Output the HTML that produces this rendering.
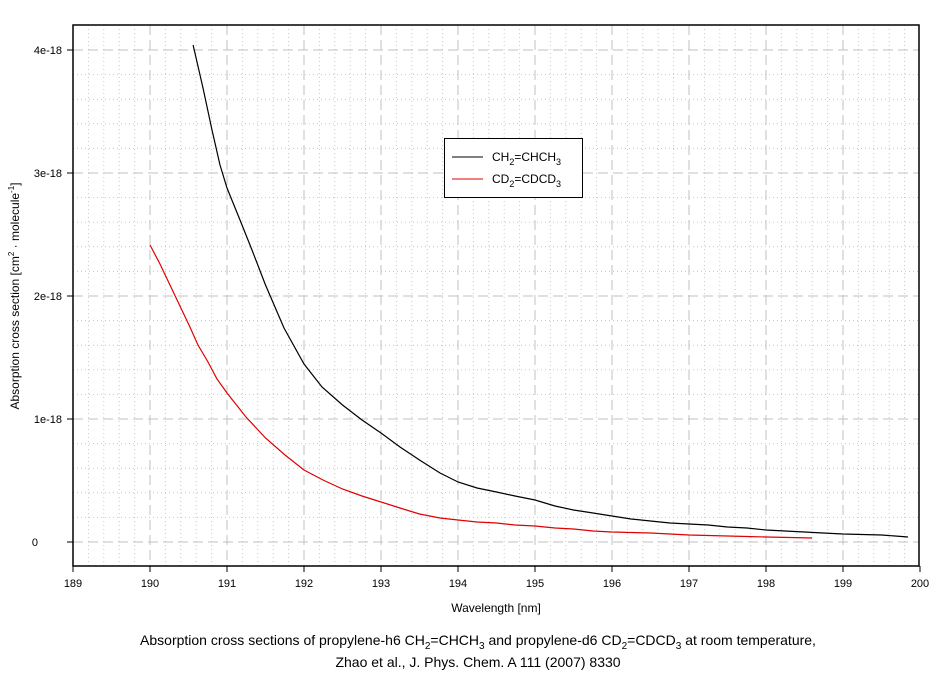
<!DOCTYPE html>
<html><head><style>body{margin:0;background:#fff}svg{display:block;font-family:"Liberation Sans",Arial,sans-serif}</style></head>
<body>
<svg width="944" height="676" viewBox="0 0 944 676" xmlns="http://www.w3.org/2000/svg">
<g stroke="#c8c8c8" stroke-width="1" stroke-dasharray="1,3">
<path d="M88.4 25V566M103.8 25V566M119.2 25V566M134.6 25V566M165.4 25V566M180.8 25V566M196.2 25V566M211.6 25V566M242.4 25V566M257.8 25V566M273.2 25V566M288.6 25V566M319.4 25V566M334.8 25V566M350.2 25V566M365.6 25V566M396.4 25V566M411.8 25V566M427.2 25V566M442.6 25V566M473.4 25V566M488.8 25V566M504.2 25V566M519.6 25V566M550.4 25V566M565.8 25V566M581.2 25V566M596.6 25V566M627.4 25V566M642.8 25V566M658.2 25V566M673.6 25V566M704.4 25V566M719.8 25V566M735.2 25V566M750.6 25V566M781.4 25V566M796.8 25V566M812.2 25V566M827.6 25V566M858.4 25V566M873.8 25V566M889.2 25V566M904.6 25V566"/>
<path d="M73 74.6H919M73 99.2H919M73 123.8H919M73 148.4H919M73 197.6H919M73 222.2H919M73 246.8H919M73 271.4H919M73 320.6H919M73 345.2H919M73 369.8H919M73 394.4H919M73 443.6H919M73 468.2H919M73 492.8H919M73 517.4H919"/>
</g>
<g stroke="#c0c0c0" stroke-width="1" stroke-dasharray="10,5">
<path d="M150 25V566M227 25V566M304 25V566M381 25V566M458 25V566M535 25V566M612 25V566M689 25V566M766 25V566M843 25V566"/>
<path d="M73 50H919M73 173H919M73 296H919M73 419H919M73 542H919"/>
</g>
<rect x="73" y="25" width="846" height="541" fill="none" stroke="#000" stroke-width="1.5"/>
<g stroke="#000" stroke-width="1">
<path d="M67 50H73M67 173H73M67 296H73M67 419H73M67 542H73"/>
<path d="M73 566V572M150 566V572M227 566V572M304 566V572M381 566V572M458 566V572M535 566V572M612 566V572M689 566V572M766 566V572M843 566V572M920 566V572"/>
</g>
<g font-size="11" fill="#000" text-anchor="end">
<text x="62" y="54">4e-18</text><text x="62" y="177">3e-18</text><text x="62" y="300">2e-18</text><text x="62" y="423">1e-18</text><text x="38" y="546">0</text>
</g>
<g font-size="11" fill="#000" text-anchor="middle">
<text x="73" y="587">189</text><text x="150" y="587">190</text><text x="227" y="587">191</text><text x="304" y="587">192</text><text x="381" y="587">193</text><text x="458" y="587">194</text><text x="535" y="587">195</text><text x="612" y="587">196</text><text x="689" y="587">197</text><text x="766" y="587">198</text><text x="843" y="587">199</text><text x="920" y="587">200</text>
<text x="496" y="612" font-size="12">Wavelength [nm]</text>
</g>
<text transform="translate(19,296) rotate(-90)" text-anchor="middle" font-size="12">Absorption cross section [cm<tspan font-size="8" dy="-5">2</tspan><tspan dy="5"> · molecule</tspan><tspan font-size="8" dy="-5">-1</tspan><tspan dy="5">]</tspan></text>
<polyline fill="none" stroke="#000" stroke-width="1.2" points="193.1,45 203,88 212,130 220,165 227,188 240,220 252,250 265.5,285 284,328 304,364 322,387 342.5,405 362,420 381,433 400,447 419.5,460 440,473 458,482 477,488 496.5,492 515,496 535,500 555,506 573.5,510 593,513 612,516 631,519 650.5,521 670,523 689,524 708,525 727.5,527 747,528 766,530 785,531 804.5,532 823,533 843,534 862,534.5 881.5,535 895,536 908,537"/>
<polyline fill="none" stroke="#e00000" stroke-width="1.2" points="150,245 160,264 169,283 179,304 189,325 198,345 208,362 217,379 227,393 246,417 265.5,438 285,455 304,470 323,480 342.5,489 362,496 381,502 400,508 419.5,514 440,518 458,520 477,522 496.5,523 515,525 535,526 555,528 573.5,529 593,531 612,532 631,532.5 650.5,533 670,534 689,535 708,535.5 727.5,536 747,536.5 766,537 790,537.5 812,538"/>
<rect x="444.5" y="138.5" width="138" height="59" fill="#fff" stroke="#000" stroke-width="1"/>
<line x1="452" y1="157" x2="483" y2="157" stroke="#000" stroke-width="1"/>
<line x1="452" y1="179" x2="483" y2="179" stroke="#e00000" stroke-width="1"/>
<g font-size="12">
<text x="492" y="161">CH<tspan font-size="9" dy="4">2</tspan><tspan dy="-4">=CHCH</tspan><tspan font-size="9" dy="4">3</tspan></text>
<text x="492" y="183">CD<tspan font-size="9" dy="4">2</tspan><tspan dy="-4">=CDCD</tspan><tspan font-size="9" dy="4">3</tspan></text>
</g>
<g font-size="14" text-anchor="middle">
<text x="478" y="645">Absorption cross sections of propylene-h6 CH<tspan font-size="10" dy="4">2</tspan><tspan dy="-4">=CHCH</tspan><tspan font-size="10" dy="4">3</tspan><tspan dy="-4"> and propylene-d6 CD</tspan><tspan font-size="10" dy="4">2</tspan><tspan dy="-4">=CDCD</tspan><tspan font-size="10" dy="4">3</tspan><tspan dy="-4"> at room temperature,</tspan></text>
<text x="478" y="667">Zhao et al., J. Phys. Chem. A 111 (2007) 8330</text>
</g>
</svg>
</body></html>
